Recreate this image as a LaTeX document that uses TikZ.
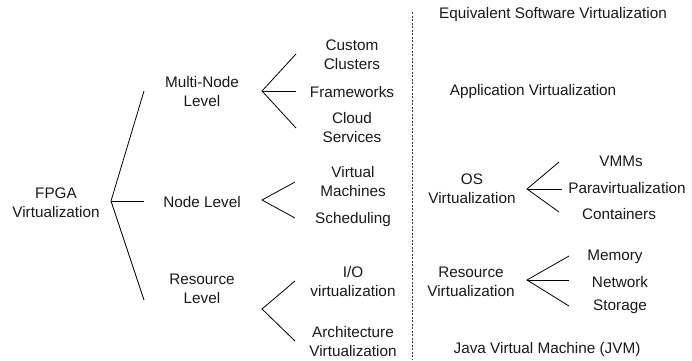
\documentclass[tikz,border=0pt]{standalone}
\usepackage{fontspec}
\setmainfont{Liberation Sans}
\begin{document}
\begin{tikzpicture}[x=1pt,y=-1pt,
  lbl/.style={inner sep=0pt,align=center,font=\fontsize{15.3}{19}\selectfont,text=black!90},
  conn/.style={draw=black,line width=0.8pt},
  divider/.style={draw=black!80,line width=0.8pt,dash pattern=on 2pt off 1.5pt}]
\useasboundingbox (0,0) rectangle (692,360);
% left tree
\node[lbl] (root) at (56,203) {FPGA\\Virtualization};
\node[lbl] (mn) at (202,92) {Multi-Node\\Level};
\node[lbl] (nl) at (202,202) {Node Level};
\node[lbl] (rl) at (202,289) {Resource\\Level};
\node[lbl] (cc) at (352,55) {Custom\\Clusters};
\node[lbl] (fw) at (352,92) {Frameworks};
\node[lbl] (cs) at (352,128) {Cloud\\Services};
\node[lbl] (vm) at (353,182) {Virtual\\Machines};
\node[lbl] (sch) at (353,220) {Scheduling};
\node[lbl] (io) at (353,282) {I/O\\virtualization};
\node[lbl] (arch) at (353,342) {Architecture\\Virtualization};
% root fan
\coordinate (ra) at (111,201);
\coordinate (r1) at (144,91);
\coordinate (r2) at (144,201);
\coordinate (r3) at (144,300);
\draw[conn] (r1) -- (ra) -- (r3);
\draw[conn] (ra) -- (r2);
% multi-node fan
\coordinate (ma) at (262,91);
\coordinate (m1) at (296,54);
\coordinate (m2) at (296,91);
\coordinate (m3) at (296,128);
\draw[conn] (m1) -- (ma) -- (m3);
\draw[conn] (ma) -- (m2);
% node level fan
\coordinate (na) at (262,200);
\coordinate (n1) at (295,182);
\coordinate (n2) at (295,218);
\draw[conn] (n1) -- (na) -- (n2);
% resource level fan
\coordinate (la) at (262,309);
\coordinate (l1) at (295,281);
\coordinate (l2) at (295,341);
\draw[conn] (l1) -- (la) -- (l2);
% divider
\coordinate (d1) at (412,12);
\coordinate (d2) at (412,360);
\draw[divider] (d1) -- (d2);
% right side
\node[lbl] (esv) at (553,15) {Equivalent Software Virtualization};
\node[lbl] (av) at (533,92) {Application Virtualization};
\node[lbl] (os) at (472,189) {OS\\Virtualization};
\node[lbl] (vmm) at (621,161) {VMMs};
\node[lbl] (para) at (627,188) {Paravirtualization};
\node[lbl] (cont) at (619,214) {Containers};
\node[lbl] (rv) at (471,282) {Resource\\Virtualization};
\node[lbl] (mem) at (615,257) {Memory};
\node[lbl] (net) at (620,282) {Network};
\node[lbl] (sto) at (620,307) {Storage};
\node[lbl] (jvm) at (547,350) {Java Virtual Machine (JVM)};
% OS fan
\coordinate (oa) at (527,189);
\coordinate (o1) at (559,162);
\coordinate (o2) at (562,189);
\coordinate (o3) at (559,212);
\draw[conn] (o1) -- (oa) -- (o3);
\draw[conn] (oa) -- (o2);
% resource virtualization fan
\coordinate (va) at (527,280);
\coordinate (v1) at (569,256);
\coordinate (v2) at (569,280);
\coordinate (v3) at (569,306);
\draw[conn] (v1) -- (va) -- (v3);
\draw[conn] (va) -- (v2);
\end{tikzpicture}
\end{document}
